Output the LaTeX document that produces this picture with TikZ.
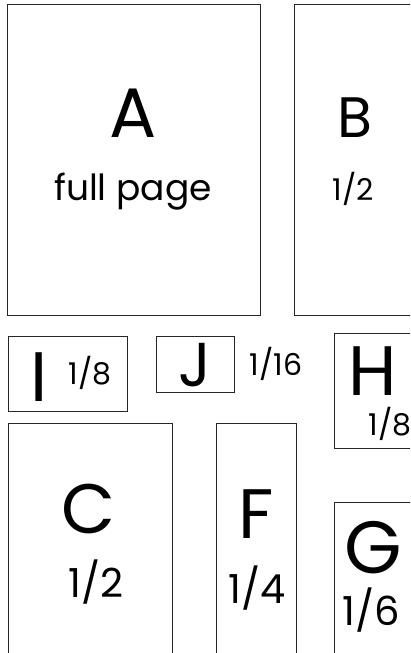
\documentclass[tikz,border=0pt]{standalone}
\usepackage{fontspec}
\setmainfont{Poppins}
\tikzset{
  pagebox/.style={draw=black!85,line width=0.9pt},
  bigletter/.style={anchor=base,inner sep=0pt,font=\fontsize{70}{70}\selectfont},
  fraction/.style={anchor=base,inner sep=0pt,font=\fontsize{30}{30}\selectfont},
  bigfraction/.style={anchor=base,inner sep=0pt,font=\fontsize{40}{40}\selectfont}
}
\begin{document}
\begin{tikzpicture}[x=1pt,y=-1pt]
  \useasboundingbox (0,0) rectangle (410,653);
  \clip (0,0) rectangle (410,653);
  % top row: full page and half
  \draw[pagebox] (7,4) rectangle (260,315);
  \node[bigletter] (labA) at (133,137) {A};
  \node[anchor=base,inner sep=0pt,font=\fontsize{36}{36}\selectfont] (sizeA) at (133,200) {full page};
  \draw[pagebox] (294,4) rectangle (420,315);
  \node[bigletter,font=\fontsize{57}{57}\selectfont] (labB) at (355,137) {B};
  \node[fraction] (sizeB) at (353,200) {1/2};
  % small ads
  \draw[pagebox] (8,336) rectangle (127,411);
  \node[bigletter] (labI) at (39,401) {I};
  \node[fraction] (sizeI) at (90,384) {1/8};
  \draw[pagebox] (156,336) rectangle (234,392);
  \node[bigletter,font=\fontsize{62}{62}\selectfont] (labJ) at (195,386) {J};
  \node[fraction] (sizeJ) at (276,375) {1/16};
  \draw[pagebox] (334,333) rectangle (420,448);
  \node[bigletter] (labH) at (373,395) {H};
  \node[fraction] (sizeH) at (390,435) {1/8};
  % bottom row
  \draw[pagebox] (8,423) rectangle (172,660);
  \node[bigletter] (labC) at (89,533) {C};
  \node[bigfraction] (sizeC) at (96,597) {1/2};
  \draw[pagebox] (216,423) rectangle (296,660);
  \node[bigletter] (labF) at (256,538) {F};
  \node[bigfraction] (sizeF) at (257,603) {1/4};
  \draw[pagebox] (334,502) rectangle (420,660);
  \node[bigletter,font=\fontsize{74}{74}\selectfont] (labG) at (373,573) {G};
  \node[bigfraction] (sizeG) at (371,625) {1/6};
\end{tikzpicture}
\end{document}
